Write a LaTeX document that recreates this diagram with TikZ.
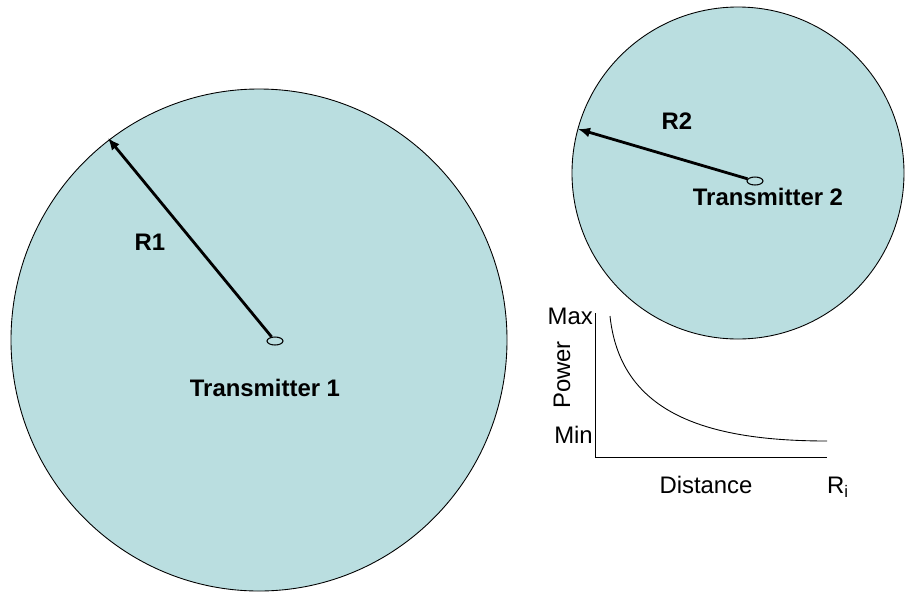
\documentclass[tikz,border=0pt]{standalone}
\usepackage{fontspec}
\setmainfont{Liberation Sans}
\usepackage{tikz}
\usetikzlibrary{shapes.geometric,arrows.meta,calc,positioning}
\definecolor{cellblue}{RGB}{186,222,224}

\begin{document}
\begin{tikzpicture}[x=0.2mm,y=-0.2mm,
    cell/.style={fill=cellblue, draw=black, line width=0.5pt},
    tx/.style={ellipse, draw=black, line width=0.6pt, inner sep=0pt, minimum width=3.2mm, minimum height=1.6mm},
    radius arrow/.style={line width=1.6pt, -{Latex[length=2.4mm,width=2mm]}},
    lbl/.style={font=\fontsize{13.6}{16}\selectfont},
    blbl/.style={font=\fontsize{13.6}{16}\selectfont\bfseries}]
          \useasboundingbox (0,0) rectangle (906,592);
          % Draw the coverage areas
          \coordinate (c1) at (259,340);
          \coordinate (c2) at (738,173);
          \draw[cell] (c1) ellipse [x radius=248, y radius=251];
          \draw[cell] (c2) circle [radius=166];
          % transmitters
          \node[tx] (tx1) at (275,341) {};
          \node[tx] (tx2) at (755,181) {};
          \node[blbl] (name1) at (265,388) {Transmitter 1};
          \node[blbl] (name2) at (768,197) {Transmitter 2};
          % radii
          \coordinate (edge1) at (108,138);
          \coordinate (edge2) at (578,129);
          \draw[radius arrow] (tx1) -- (edge1);
          \draw[radius arrow] (tx2) -- (edge2);
          \node[blbl] (r1) at (150,242) {R1};
          \node[blbl] (r2) at (677,121) {R2};
          %axis
          \coordinate (top) at (595,313);
          \coordinate (origin) at (595,457);
          \coordinate (right) at (827,457);
          \draw[line width=0.5pt] (top) -- (origin) -- (right);
          % power curve
          \draw[line width=0.5pt] (610,316) .. controls (620,410) and (700,441) .. (827,441);
          \node[lbl, anchor=east, inner xsep=0.5pt] (max) at (594,316) {Max};
          \node[lbl, anchor=east, inner xsep=0.5pt] (min) at (594,435) {Min};
          \node[lbl, rotate=90] (power) at (562,375) {Power};
          \node[lbl] (dist) at (706,485) {Distance};
          \node[lbl] (ri) at (838,487) {R\textsubscript{i}};
        \end{tikzpicture}
\end{document}
